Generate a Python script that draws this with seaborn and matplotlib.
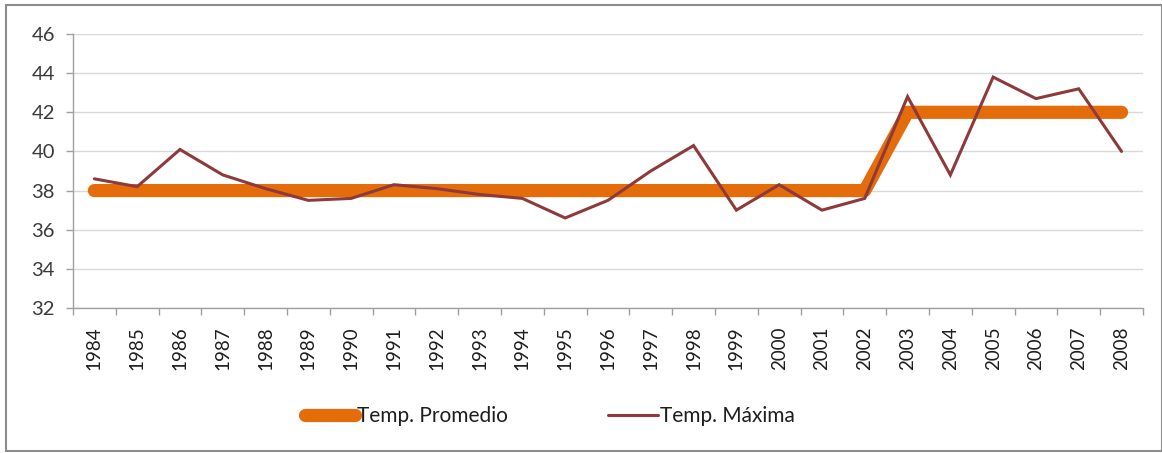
import matplotlib
matplotlib.use("Agg")
import matplotlib.pyplot as plt
from matplotlib.patches import Rectangle
from matplotlib.ticker import FixedLocator
import numpy as np
import pandas as pd
import seaborn as sns

years = [str(y) for y in range(1984, 2009)]
temp_promedio = [38] * 19 + [42] * 6
temp_maxima = [38.6, 38.2, 40.1, 38.8, 38.1, 37.5, 37.6, 38.3, 38.1, 37.8,
               37.6, 36.6, 37.5, 39.0, 40.3, 37.0, 38.3, 37.0, 37.6, 42.8,
               38.8, 43.8, 42.7, 43.2, 40.0]
series_names = ["Temp. Promedio", "Temp. Máxima"]
y_ticks = [32, 34, 36, 38, 40, 42, 44, 46]

sns.set_theme(style="white")
plt.rcParams["font.family"] = ["Lato", "DejaVu Sans"]

df = pd.DataFrame({"Año": years, series_names[0]: temp_promedio,
                   series_names[1]: temp_maxima})

fig = plt.figure(figsize=(11.62, 4.53), dpi=100)
ax = fig.add_axes([0.0628, 0.3201, 0.9208, 0.6048])

orange = "#E46C0A"
maroon = "#8E3A3A"

sns.lineplot(data=df, x="Año", y=series_names[0], ax=ax, color=orange,
             linewidth=9.5, solid_capstyle="round", solid_joinstyle="round",
             label=series_names[0], sort=False)
sns.lineplot(data=df, x="Año", y=series_names[1], ax=ax, color=maroon,
             linewidth=2.2, solid_joinstyle="miter",
             label=series_names[1], sort=False)

ax.set_ylim(32, 46)
ax.set_xlim(-0.5, len(years) - 0.5)
ax.set_yticks(y_ticks)
ax.set_yticklabels([str(t) for t in y_ticks], fontsize=14.5, color="#3A3A3A")
ax.set_xticks(range(len(years)))
ax.set_xticklabels(years, rotation=90, fontsize=13.5, color="#1E1E1E")
ax.xaxis.set_minor_locator(FixedLocator(np.arange(-0.5, len(years), 1.0)))
ax.tick_params(axis="x", which="major", length=0, pad=13)
ax.tick_params(axis="x", which="minor", length=5, width=1, color="#A0A0A0",
               direction="out", bottom=True)
ax.tick_params(axis="y", which="major", length=5, width=1, color="#A0A0A0",
               direction="out", left=True, pad=8)
ax.set_xlabel("")
ax.set_ylabel("")

ax.grid(axis="y", color="#D9D9D9", linewidth=1)
ax.set_axisbelow(True)
for side in ["top", "right"]:
    ax.spines[side].set_visible(False)
for side in ["left", "bottom"]:
    ax.spines[side].set_color("#A0A0A0")
    ax.spines[side].set_linewidth(1)

ax.legend_.remove()
handles, labels = ax.get_legend_handles_labels()
fig.legend(handles, labels, loc="center", bbox_to_anchor=(0.473, 0.082),
           ncol=2, frameon=False, fontsize=15, handlelength=2.4,
           handletextpad=0.1, columnspacing=4.8, labelcolor="#1E1E1E")

# Chart frame
fig.patches.append(Rectangle((0.005, 0.004), 0.995, 0.985,
                             transform=fig.transFigure, fill=False,
                             edgecolor="#8C8C8C", linewidth=1.5))

fig.savefig("out.png", dpi=100)
